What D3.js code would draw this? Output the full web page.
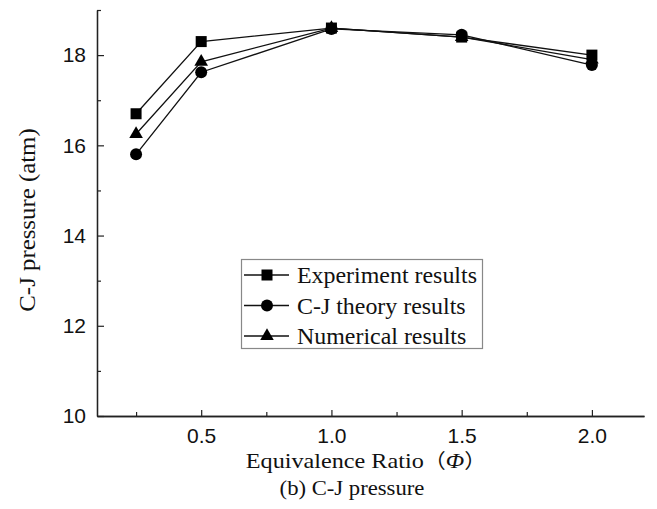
<!DOCTYPE html>
<html><head><meta charset="utf-8">
<script src="https://cdn.jsdelivr.net/npm/d3@7"></script>
<style>body{margin:0;background:#fff}svg{display:block}</style>
</head><body>
<svg id="c" width="657" height="509"></svg>
<script>
const phi = [0.25, 0.5, 1.0, 1.5, 2.0];
const experiment = [16.7, 18.3, 18.6, 18.4, 18.0];
const cjTheory = [15.8, 17.62, 18.58, 18.45, 17.78];
const numerical = [16.25, 17.85, 18.6, 18.4, 17.9];
const seriesNames = ["Experiment results", "C-J theory results", "Numerical results"];
const seriesShapes = ["square", "circle", "triangle"];
const xMajorTicks = [0.5, 1.0, 1.5, 2.0];
const xMinorTicks = [0.25, 0.75, 1.25, 1.75];
const yMajorTicks = [10, 12, 14, 16, 18];
const yMinorTicks = [11, 13, 15, 17, 19];

const svg = d3.select("#c");
const x = d3.scaleLinear().domain([0.1, 2.2]).range([97, 644]);
const y = d3.scaleLinear().domain([10, 19]).range([416, 10]);
const SANS = "'Liberation Sans', Arial, sans-serif";
const SERIF = "'Liberation Serif', 'Times New Roman', serif";

function styleAxis(g){
  g.select(".domain").attr("stroke", "#222").attr("stroke-width", 1.3);
  g.selectAll(".tick line").attr("stroke", "#222").attr("stroke-width", 1.2);
  g.selectAll(".tick text").attr("font-family", SANS).attr("font-size", 21).attr("fill", "#111");
}
// minor ticks
svg.append("g").attr("transform", "translate(0,416)")
  .call(d3.axisBottom(x).tickValues(xMinorTicks).tickSize(-4).tickSizeOuter(0).tickFormat(""))
  .call(styleAxis);
svg.append("g").attr("transform", "translate(97,0)")
  .call(d3.axisLeft(y).tickValues(yMinorTicks).tickSize(-4).tickSizeOuter(0).tickFormat(""))
  .call(styleAxis);
// major ticks
svg.append("g").attr("transform", "translate(0,416)")
  .call(d3.axisBottom(x).tickValues(xMajorTicks).tickSize(-6).tickSizeOuter(0).tickPadding(12).tickFormat(d3.format(".1f")))
  .call(styleAxis);
svg.append("g").attr("transform", "translate(97,0)")
  .call(d3.axisLeft(y).tickValues(yMajorTicks).tickSize(-7).tickSizeOuter(0).tickPadding(11).tickFormat(d3.format("d")))
  .call(styleAxis);

function stretchText(sel, tx, ty, sx, rot){
  sel.attr("transform", `translate(${tx},${ty})` + (rot ? ` rotate(${rot})` : "") + ` scale(${sx},1)`);
  return sel;
}

// axis titles
const xt = svg.append("text").attr("font-family", SERIF).attr("font-size", 22).attr("fill", "#111").attr("text-anchor", "middle");
stretchText(xt, 366, 468, 1.1);
xt.append("tspan").text("Equivalence Ratio");
xt.append("tspan").attr("font-family", "'Noto Sans CJK SC', sans-serif").attr("font-size", 20).text("（");
xt.append("tspan").attr("font-style", "italic").text("Φ");
xt.append("tspan").attr("font-family", "'Noto Sans CJK SC', sans-serif").attr("font-size", 20).text("）");

const yt = svg.append("text").attr("font-family", SERIF).attr("font-size", 23).attr("fill", "#111").attr("text-anchor", "middle").text("C-J pressure (atm)");
stretchText(yt, 35, 220, 1.08, -90);

const cap = svg.append("text").attr("font-family", SERIF).attr("font-size", 21).attr("fill", "#111").attr("text-anchor", "middle").text("(b) C-J pressure");
stretchText(cap, 352, 495, 1.08);

// series
const allSeries = [experiment, cjTheory, numerical];
const line = d3.line().x((d, i) => x(phi[i])).y(d => y(d));

function marker(g, shape, cx, cy){
  if (shape === "square") g.append("rect").attr("x", cx - 5.5).attr("y", cy - 5.5).attr("width", 11).attr("height", 11).attr("fill", "#000");
  else if (shape === "circle") g.append("circle").attr("cx", cx).attr("cy", cy).attr("r", 6).attr("fill", "#000");
  else g.append("path").attr("d", d3.symbol(d3.symbolTriangle, 80)()).attr("transform", `translate(${cx},${cy})`).attr("fill", "#000");
}

allSeries.forEach(vals => {
  svg.append("path").datum(vals).attr("d", line).attr("fill", "none").attr("stroke", "#111").attr("stroke-width", 1.3);
});
allSeries.forEach((vals, si) => {
  const g = svg.append("g");
  vals.forEach((v, i) => marker(g, seriesShapes[si], x(phi[i]), y(v)));
});

// legend
const lg = svg.append("g");
lg.append("rect").attr("x", 241.5).attr("y", 259.5).attr("width", 241).attr("height", 89)
  .attr("fill", "#fff").attr("stroke", "#888").attr("stroke-width", 1.2);
seriesNames.forEach((name, i) => {
  const cy = 275 + i * 30.5;
  lg.append("line").attr("x1", 244).attr("x2", 289).attr("y1", cy).attr("y2", cy).attr("stroke", "#111").attr("stroke-width", 1.3);
  marker(lg, seriesShapes[i], 267, cy);
  const t = lg.append("text").attr("font-family", SERIF).attr("font-size", 23).attr("fill", "#111").text(name);
  stretchText(t, 297, cy + 8, 1.04);
});
</script>
</body></html>
